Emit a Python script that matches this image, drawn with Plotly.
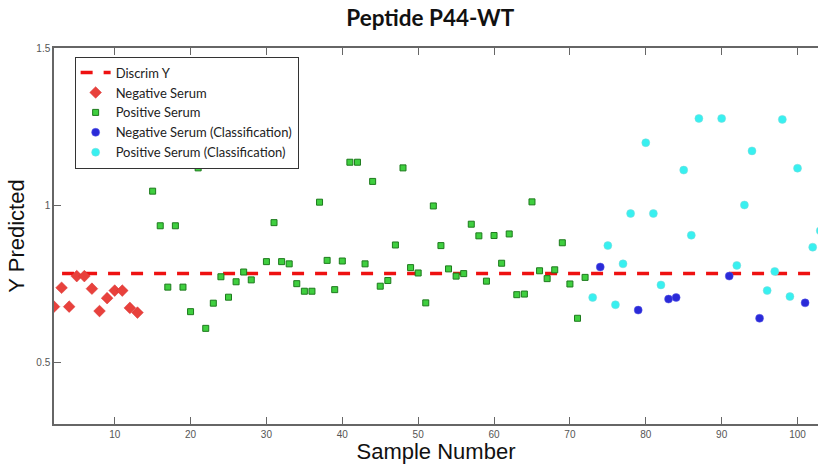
import plotly.graph_objects as go

# ---- data ----
neg_x = [2, 3, 4, 5, 6, 7, 8, 9, 10, 11, 12, 13]
neg_y = [0.678, 0.738, 0.678, 0.775, 0.775, 0.735, 0.664, 0.705, 0.729, 0.729, 0.674, 0.659]

pos_x = list(range(15, 73))
pos_y = [1.045, 0.935, 0.740, 0.935, 0.740, 0.662, 1.119, 0.609, 0.689, 0.773,
         0.708, 0.757, 0.788, 0.763, 1.199, 0.821, 0.945, 0.821, 0.814, 0.751,
         0.727, 0.727, 1.010, 0.825, 0.732, 0.823, 1.137, 1.137, 0.814, 1.076,
         0.743, 0.761, 0.874, 1.119, 0.802, 0.785, 0.690, 0.998, 0.872, 0.798,
         0.775, 0.783, 0.940, 0.903, 0.759, 0.904, 0.816, 0.909, 0.716, 0.718,
         1.011, 0.792, 0.767, 0.795, 0.881, 0.750, 0.641, 0.771]

negc_x = [74, 79, 83, 84, 91, 95, 101]
negc_y = [0.804, 0.667, 0.702, 0.707, 0.775, 0.641, 0.690]

posc_x = [73, 75, 76, 77, 78, 80, 81, 82, 85, 86, 87, 90, 92, 93, 94, 96, 97, 98, 99, 100, 102, 103]
posc_y = [0.707, 0.872, 0.684, 0.814, 0.974, 1.199, 0.974, 0.747, 1.112, 0.905, 1.276,
          1.276, 0.809, 1.001, 1.173, 0.729, 0.790, 1.273, 0.710, 1.118, 0.867, 0.919]

discrim_y = 0.783
x_range = [2, 102.7]
y_range = [0.305, 1.5]
x_ticks = [10, 20, 30, 40, 50, 60, 70, 80, 90, 100]
y_ticks = [0.5, 1, 1.5]

fig = go.Figure()

fig.add_trace(go.Scatter(
    x=[x_range[0] - 5, x_range[1] + 5], y=[discrim_y, discrim_y],
    mode="lines", name="Discrim Y",
    line=dict(color="#ee1111", width=3.5, dash="12px,11px"),
))
fig.add_trace(go.Scatter(
    x=neg_x, y=neg_y, mode="markers", name="Negative Serum",
    marker=dict(symbol="diamond", size=9, color="#e8413c",
                line=dict(color="#d93030", width=0.5)),
))
fig.add_trace(go.Scatter(
    x=pos_x, y=pos_y, mode="markers", name="Positive Serum",
    marker=dict(symbol="square", size=6, color="#3fcf3f",
                line=dict(color="#1d7a1d", width=1)),
))
fig.add_trace(go.Scatter(
    x=negc_x, y=negc_y, mode="markers", name="Negative Serum (Classification)",
    marker=dict(symbol="circle", size=8, color="#2a2ad8",
                line=dict(color="#5a5ae8", width=0.5)),
))
fig.add_trace(go.Scatter(
    x=posc_x, y=posc_y, mode="markers", name="Positive Serum (Classification)",
    marker=dict(symbol="circle", size=8, color="#38f0f0",
                line=dict(color="#7fd8d8", width=0.5)),
))

fig.update_layout(
    width=818, height=464,
    margin=dict(l=54, r=0, t=48, b=40, autoexpand=False),
    paper_bgcolor="white", plot_bgcolor="white",
    title=dict(text="<b>Peptide P44-WT</b>", x=0.526, xanchor="center",
               y=0.962, yanchor="middle",
               font=dict(family="Lato", size=22.5, color="#111111")),
    legend=dict(x=0.027, y=0.977, xanchor="left", yanchor="top",
                bordercolor="#333333", borderwidth=1, bgcolor="white",
                font=dict(family="Lato", size=13, color="#222222"),
                tracegroupgap=0, itemwidth=30),
    showlegend=True,
)

fig.update_xaxes(
    range=x_range, tickvals=x_ticks, ticks="inside", ticklen=7,
    tickcolor="#666666", showline=True, linecolor="#666666", linewidth=1.5,
    mirror="ticks", showgrid=False, zeroline=False, automargin=False,
    tickfont=dict(family="Liberation Sans Narrow, Liberation Sans", size=10, color="#555555"),
    title=dict(text="Sample Number", standoff=2,
               font=dict(family="Liberation Sans", size=22, color="#111111")),
)
fig.update_yaxes(
    range=y_range, tickvals=y_ticks, ticktext=["0.5", "1", "1.5"],
    ticks="inside", ticklen=7,
    tickcolor="#666666", showline=True, linecolor="#666666", linewidth=1.5,
    mirror=False, showgrid=False, zeroline=False, automargin=False,
    tickfont=dict(family="Liberation Sans Narrow, Liberation Sans", size=10, color="#555555"),
    title=dict(text="Y Predicted", standoff=6,
               font=dict(family="Liberation Sans", size=22, color="#111111")),
)

# remove the default 8px page margin so the 818x464 figure fills the window
fig.write_html(
    "out.html",
    config={"displayModeBar": False},
    post_script="document.body.style.margin='0';document.body.style.overflow='hidden';",
)
